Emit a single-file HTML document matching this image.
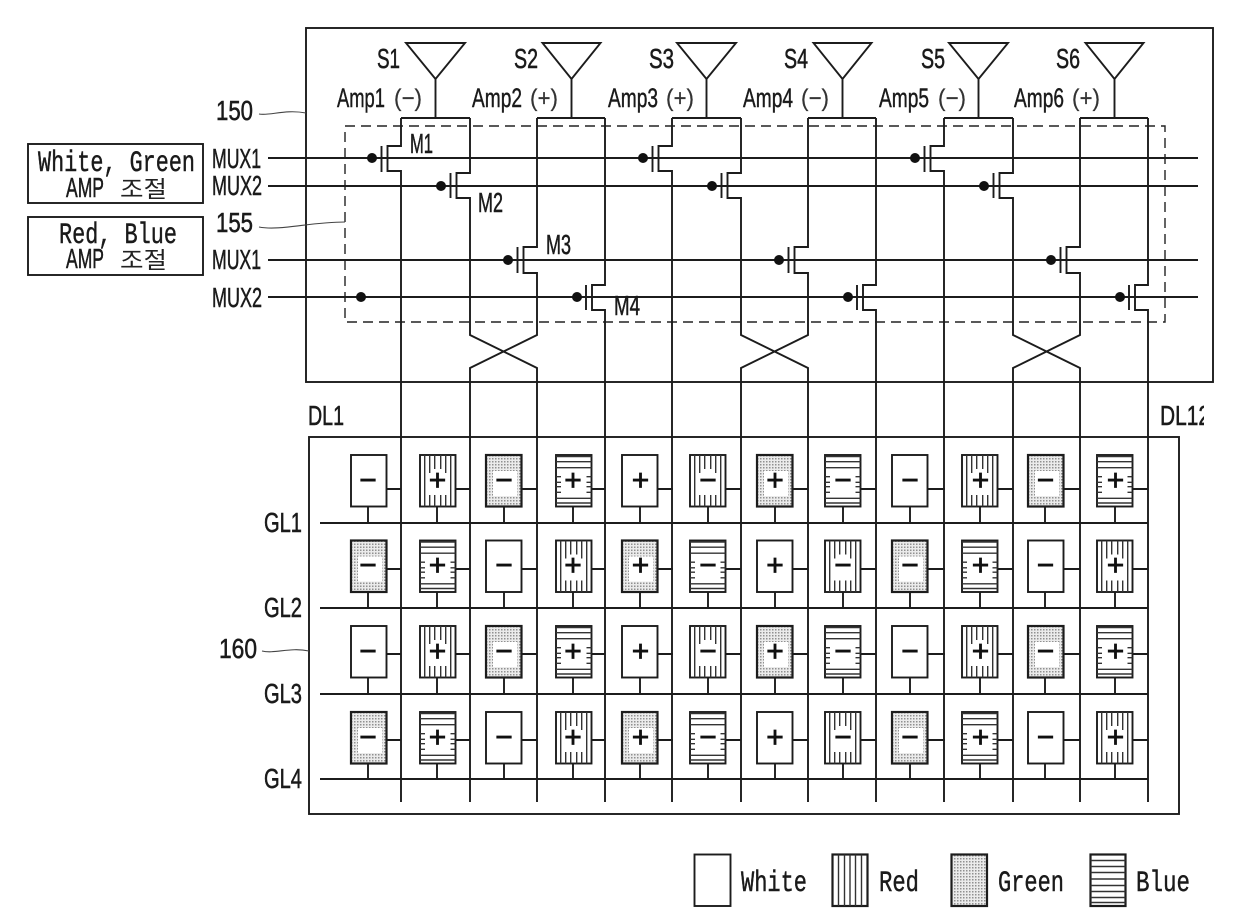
<!DOCTYPE html>
<html>
<head>
<meta charset="utf-8">
<style>
html,body{margin:0;padding:0;background:#fff}
svg{display:block}
.l{fill:none;stroke:#1c1c1c;stroke-width:1.9}
.t{font-family:"Liberation Sans","Noto Sans CJK KR",sans-serif;font-size:28px;fill:#1a1a1a;stroke:#1a1a1a;stroke-width:.55}
.m{font-family:"Liberation Mono","Noto Sans CJK KR",monospace;font-size:30px;fill:#1a1a1a;stroke:#1a1a1a;stroke-width:.45}
.a{font-family:"Liberation Sans",sans-serif;font-size:27px;fill:#1a1a1a;stroke:#1a1a1a;stroke-width:.45}
.p{font-family:"Liberation Sans",sans-serif;font-size:24px;fill:#333;stroke:#333;stroke-width:.2}
.k{font-family:"Noto Sans CJK KR",sans-serif;font-size:23px;fill:#222}
.s{font-family:"Liberation Sans",sans-serif;font-size:30px;fill:#111;stroke:#111;stroke-width:.7}
</style>
</head>
<body>
<svg width="1240" height="919" viewBox="0 0 1240 919" xmlns="http://www.w3.org/2000/svg">
<defs>
<pattern id="dots" width="3" height="3" patternUnits="userSpaceOnUse">
<rect width="3" height="3" fill="#ebebeb"/>
<rect width="1.5" height="1.5" fill="#909090"/>
</pattern>
<clipPath id="clip"><rect x="1150" y="395" width="54" height="40"/></clipPath>

<g id="W"><rect class="l" width="35.5" height="51.5" style="fill:#fff"/></g>
<g id="R">
<rect class="l" width="35.5" height="51.5" style="fill:#fff"/>
<path class="l" style="stroke-width:1.4;stroke:#333" d="M4.7 0V51.5M30.7 0V51.5M9.7 0V18M25.7 0V18M14.7 0V14M20.7 0V14M9.7 40V51.5M14.7 40V51.5M20.7 40V51.5M25.7 40V51.5"/>
</g>
<g id="B">
<rect class="l" width="35.5" height="51.5" style="fill:#fff"/>
<path class="l" style="stroke-width:1.4;stroke:#333" d="M0 1.5H35.5M0 6.7H35.5M0 12.7H35.5M0 43.3H35.5M0 48H35.5M0 21.7H5M0 27.3H5M0 31.7H5M0 37.3H5M30.5 21.7H35.5M30.5 27.3H35.5M30.5 31.7H35.5M30.5 37.3H35.5"/>
</g>
<g id="G">
<rect class="l" width="35.5" height="51.5" style="fill:url(#dots);stroke-width:2.2"/>
<rect x="7" y="16" width="24" height="25" fill="#fff"/>
</g>

<g id="r1">
<use href="#W" x="351"/><use href="#R" x="420"/><use href="#G" x="486"/><use href="#B" x="556"/>
<use href="#W" x="622"/><use href="#R" x="690"/><use href="#G" x="757"/><use href="#B" x="825"/>
<use href="#W" x="892"/><use href="#R" x="962"/><use href="#G" x="1028"/><use href="#B" x="1097"/>
</g>
<g id="r2">
<use href="#G" x="351"/><use href="#B" x="420"/><use href="#W" x="486"/><use href="#R" x="556"/>
<use href="#G" x="622"/><use href="#B" x="690"/><use href="#W" x="757"/><use href="#R" x="825"/>
<use href="#G" x="892"/><use href="#B" x="962"/><use href="#W" x="1028"/><use href="#R" x="1097"/>
</g>
<path id="hs" class="l" d="M386 0H401M455 0H470M521 0H537M591 0H605M657 0H673M725 0H741M792 0H808M860 0H876M927 0H945M997 0H1013M1063 0H1080M1132 0H1148"/>
<path id="vs" class="l" d="M368 0V17M437 0V17M504 0V17M573 0V17M640 0V17M708 0V17M775 0V17M843 0V17M910 0V17M980 0V17M1045 0V17M1115 0V17"/>

<g id="grp">
<path class="l" d="M406 43H465L435.5 79ZM435.5 79V118M401 118H470M542.5 43H600.5L571.5 79ZM571.5 79V118M537 118H605"/>
<path class="l" d="M401 118V146H387.5V171H401V802"/>
<path class="l" d="M470 118V173H456.5V198H470V335L537 368V802"/>
<path class="l" d="M537 118V247H523.5V273H537V335L470 368V802"/>
<path class="l" d="M605 118V285H592V310H605V802"/>
<path class="l" d="M381.5 146V172M450.5 173V198M517.5 247V273M586 285V310"/>
<circle cx="372" cy="158" r="5" fill="#111"/>
<circle cx="441" cy="186" r="5" fill="#111"/>
<circle cx="508" cy="260" r="5" fill="#111"/>
<circle cx="577" cy="297" r="5" fill="#111"/>
</g>
</defs>

<!-- Amp block -->
<rect class="l" x="306" y="28" width="907" height="354"/>
<rect x="345" y="126" width="820" height="196" fill="none" stroke="#222" stroke-width="1.4" stroke-dasharray="10 6"/>
<path class="l" d="M268 158H1198M268 186H1198M268 260H1198M268 297H1198"/>
<circle cx="361" cy="297" r="5" fill="#111"/>

<!-- Panel -->
<rect class="l" x="309" y="437" width="870" height="377"/>

<use href="#grp"/>
<use href="#grp" x="271"/>
<use href="#grp" x="543"/>

<path class="l" d="M320 523H1148M320 608H1148M320 694H1148M320 779H1148"/>

<use href="#hs" y="489"/><use href="#hs" y="569"/><use href="#hs" y="654"/><use href="#hs" y="740"/>
<use href="#vs" y="506"/><use href="#vs" y="591"/><use href="#vs" y="677"/><use href="#vs" y="762"/>

<use href="#r1" y="455"/>
<use href="#r2" y="540.5"/>
<use href="#r1" y="626"/>
<use href="#r2" y="712"/>

<text class="s" y="490" x="359.2 428.7 495.2 564.2 631.7 699.2 766.2 834.2 901.2 971.7 1036.7 1106.7">−+−++−+−−+−+</text>
<text class="s" y="575" x="359.2 428.7 495.2 564.2 631.7 699.2 766.2 834.2 901.2 971.7 1036.7 1106.7">−+−++−+−−+−+</text>
<text class="s" y="661" x="359.2 428.7 495.2 564.2 631.7 699.2 766.2 834.2 901.2 971.7 1036.7 1106.7">−+−++−+−−+−+</text>
<text class="s" y="747" x="359.2 428.7 495.2 564.2 631.7 699.2 766.2 834.2 901.2 971.7 1036.7 1106.7">−+−++−+−−+−+</text>

<!-- Signal labels -->
<text class="t" x="377" y="68" textLength="23" lengthAdjust="spacingAndGlyphs">S1</text>
<text class="t" x="514" y="68" textLength="24" lengthAdjust="spacingAndGlyphs">S2</text>
<text class="t" x="649" y="68" textLength="25" lengthAdjust="spacingAndGlyphs">S3</text>
<text class="t" x="784" y="68" textLength="24" lengthAdjust="spacingAndGlyphs">S4</text>
<text class="t" x="921" y="68" textLength="24" lengthAdjust="spacingAndGlyphs">S5</text>
<text class="t" x="1056" y="68" textLength="24" lengthAdjust="spacingAndGlyphs">S6</text>

<text class="a" x="337" y="107" textLength="48" lengthAdjust="spacingAndGlyphs">Amp1</text>
<text class="p" x="394" y="106" textLength="28" lengthAdjust="spacingAndGlyphs">(−)</text>
<text class="a" x="472" y="107" textLength="50" lengthAdjust="spacingAndGlyphs">Amp2</text>
<text class="p" x="530" y="106" textLength="28" lengthAdjust="spacingAndGlyphs">(+)</text>
<text class="a" x="608" y="107" textLength="50" lengthAdjust="spacingAndGlyphs">Amp3</text>
<text class="p" x="666" y="106" textLength="28" lengthAdjust="spacingAndGlyphs">(+)</text>
<text class="a" x="743" y="107" textLength="50" lengthAdjust="spacingAndGlyphs">Amp4</text>
<text class="p" x="801" y="106" textLength="28" lengthAdjust="spacingAndGlyphs">(−)</text>
<text class="a" x="879" y="107" textLength="50" lengthAdjust="spacingAndGlyphs">Amp5</text>
<text class="p" x="938" y="106" textLength="28" lengthAdjust="spacingAndGlyphs">(−)</text>
<text class="a" x="1014" y="107" textLength="50" lengthAdjust="spacingAndGlyphs">Amp6</text>
<text class="p" x="1072" y="106" textLength="28" lengthAdjust="spacingAndGlyphs">(+)</text>

<text class="t" x="410" y="153" textLength="23" lengthAdjust="spacingAndGlyphs">M1</text>
<text class="t" x="478" y="212" textLength="25" lengthAdjust="spacingAndGlyphs">M2</text>
<text class="t" x="546" y="254" textLength="25" lengthAdjust="spacingAndGlyphs">M3</text>
<text class="t" x="614" y="315" textLength="26" lengthAdjust="spacingAndGlyphs">M4</text>

<text class="t" x="216" y="120" textLength="37" lengthAdjust="spacingAndGlyphs">150</text>
<text class="t" x="216" y="232" textLength="37" lengthAdjust="spacingAndGlyphs">155</text>
<text class="t" x="219" y="658" textLength="38" lengthAdjust="spacingAndGlyphs">160</text>
<path d="M259 114C270 116 285 109 306 113M259 227C280 231 310 222 345 222M262 651C275 654 290 647 309 651" fill="none" stroke="#444" stroke-width="1.1"/>

<text class="t" x="212" y="168" textLength="49" lengthAdjust="spacingAndGlyphs">MUX1</text>
<text class="t" x="212" y="195" textLength="50" lengthAdjust="spacingAndGlyphs">MUX2</text>
<text class="t" x="212" y="269" textLength="49" lengthAdjust="spacingAndGlyphs">MUX1</text>
<text class="t" x="212" y="307" textLength="50" lengthAdjust="spacingAndGlyphs">MUX2</text>

<!-- Left boxes -->
<rect class="l" x="28" y="144" width="175" height="59"/>
<rect class="l" x="28" y="217" width="175" height="58"/>
<text class="m" x="38" y="171" textLength="157" lengthAdjust="spacingAndGlyphs">White, Green</text>
<text class="t" x="66" y="197" textLength="38" lengthAdjust="spacingAndGlyphs">AMP</text>
<text class="k" x="120" y="197" textLength="47" lengthAdjust="spacingAndGlyphs">조절</text>
<text class="m" x="59" y="243" textLength="118" lengthAdjust="spacingAndGlyphs">Red, Blue</text>
<text class="t" x="66" y="268" textLength="38" lengthAdjust="spacingAndGlyphs">AMP</text>
<text class="k" x="120" y="268" textLength="47" lengthAdjust="spacingAndGlyphs">조절</text>

<!-- DL / GL -->
<text class="t" x="308" y="425" textLength="36" lengthAdjust="spacingAndGlyphs">DL1</text>
<g clip-path="url(#clip)"><text class="t" x="1160" y="425" textLength="50" lengthAdjust="spacingAndGlyphs">DL12</text></g>
<text class="t" x="264" y="532" textLength="38" lengthAdjust="spacingAndGlyphs">GL1</text>
<text class="t" x="264" y="617" textLength="38" lengthAdjust="spacingAndGlyphs">GL2</text>
<text class="t" x="264" y="703" textLength="38" lengthAdjust="spacingAndGlyphs">GL3</text>
<text class="t" x="264" y="788" textLength="38" lengthAdjust="spacingAndGlyphs">GL4</text>

<!-- Legend -->
<rect class="l" x="694.5" y="854.5" width="36" height="51.5"/>
<g transform="translate(832.5 854.5)">
<rect class="l" style="fill:#fff;stroke-width:2.2" width="35" height="51.5"/>
<path class="l" style="stroke-width:1.4;stroke:#333" d="M6 0V51.5M12 0V51.5M17.5 0V51.5M23 0V51.5M29 0V51.5"/>
</g>
<rect class="l" style="fill:url(#dots);stroke-width:2.2" x="951.5" y="854.5" width="35.5" height="51.5"/>
<g transform="translate(1090.5 854.5)">
<rect class="l" style="fill:#fff;stroke-width:2.2" width="35" height="51.5"/>
<path class="l" style="stroke-width:1.4;stroke:#333" d="M0 6H35M0 12H35M0 18H35M0 24.5H35M0 31H35M0 37H35M0 43H35M0 48H35"/>
</g>
<text class="m" x="741" y="891" textLength="66" lengthAdjust="spacingAndGlyphs">White</text>
<text class="m" x="879" y="891" textLength="40" lengthAdjust="spacingAndGlyphs">Red</text>
<text class="m" x="998" y="891" textLength="66" lengthAdjust="spacingAndGlyphs">Green</text>
<text class="m" x="1136" y="891" textLength="54" lengthAdjust="spacingAndGlyphs">Blue</text>
</svg>
</body>
</html>
